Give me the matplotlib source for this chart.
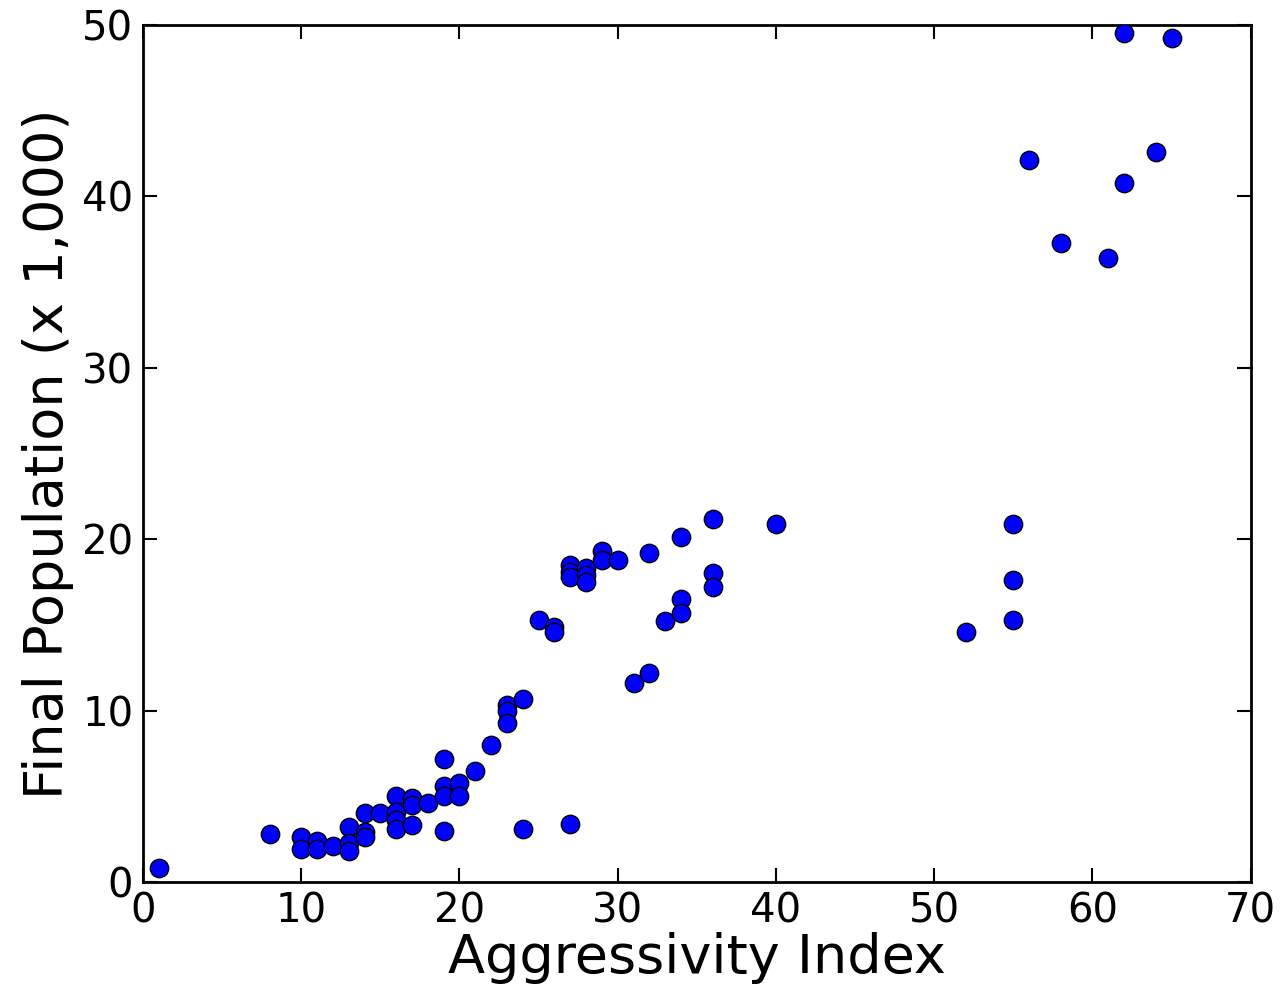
import matplotlib
matplotlib.use("Agg")
import matplotlib.pyplot as plt

# Aggressivity index vs final population (x 1,000)
aggr = [1, 8, 10, 10, 11, 11, 12, 13, 13, 13, 14, 14, 14, 15,
        16, 16, 16, 16, 17, 17, 17, 18, 19, 19, 19, 19, 20, 20, 21, 22,
        23, 23, 23, 24, 24, 25, 26, 26, 27, 27, 27, 27, 28, 28, 28,
        29, 29, 30, 31, 32, 32, 33, 34, 34, 34, 36, 36, 36, 40,
        52, 55, 55, 55, 56, 58, 61, 62, 62, 64, 65]
pop = [0.8, 2.8, 2.6, 1.9, 2.4, 1.9, 2.1, 3.2, 2.3, 1.8, 4.0, 2.9, 2.6, 4.0,
       5.0, 4.1, 3.6, 3.1, 4.9, 4.5, 3.3, 4.6, 7.2, 5.6, 5.0, 3.0, 5.8, 5.0, 6.5, 8.0,
       10.3, 10.0, 9.3, 10.7, 3.1, 15.3, 14.9, 14.6, 18.5, 18.1, 17.8, 3.4, 18.3, 17.9, 17.5,
       19.3, 18.8, 18.8, 11.6, 19.2, 12.2, 15.2, 20.1, 16.5, 15.7, 21.2, 18.0, 17.2, 20.9,
       14.6, 20.9, 17.6, 15.3, 42.1, 37.3, 36.4, 49.5, 40.8, 42.6, 49.2]

fig = plt.figure(figsize=(12.88, 9.91), dpi=100)
ax = fig.add_axes([0.111, 0.110, 0.860, 0.865])

ax.scatter(aggr, pop, s=175, c="#0000ff", edgecolors="k", linewidths=1, zorder=3)

ax.set_xlim(0, 70)
ax.set_ylim(0, 50)
ax.set_xticks(range(0, 71, 10))
ax.set_yticks(range(0, 51, 10))
ax.tick_params(direction="in", length=10, width=1.5, top=True, right=True, labelsize=29, pad=7)
for s in ax.spines.values():
    s.set_linewidth(2)

ax.set_xlabel("Aggressivity Index", fontsize=39, labelpad=0)
ax.set_ylabel("Final Population (x 1,000)", fontsize=39, labelpad=6)

plt.savefig("out.png", dpi=100)
